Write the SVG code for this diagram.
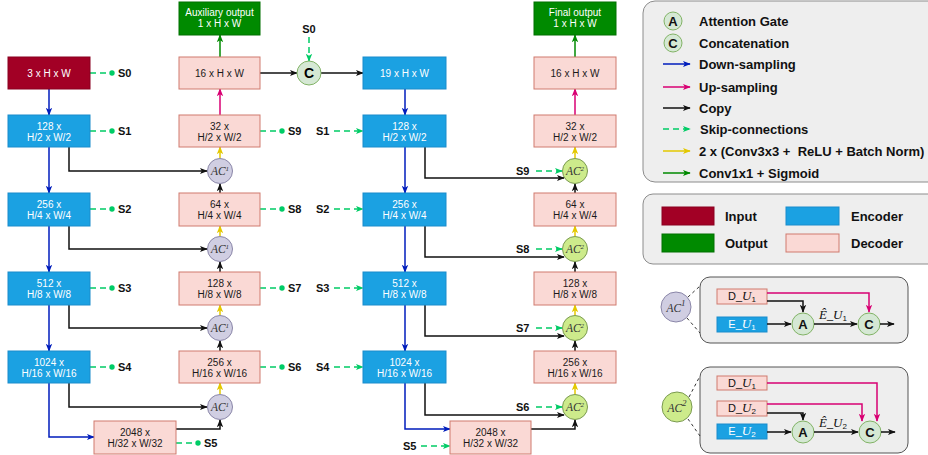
<svg xmlns="http://www.w3.org/2000/svg" width="928" height="455" viewBox="0 0 928 455">
<defs>
<style>
text{font-family:"Liberation Sans",Arial,sans-serif;}
.bx{font-size:10px;text-anchor:middle;}
.wt{fill:#ffffff;}
.dk{fill:#1a1a1a;}
.enc{fill:#1ba1e2;stroke:#1a8ccc;stroke-width:1;}
.dec{fill:#fad9d5;stroke:#d07a6e;stroke-width:1;}
.inp{fill:#a20025;stroke:#8a0020;stroke-width:1;}
.out{fill:#008a00;stroke:#007000;stroke-width:1;}
.ac1{fill:#d0cee2;stroke:#8a86a8;stroke-width:1;}
.ac2{fill:#cdeb8b;stroke:#7a9a50;stroke-width:1;}
.gc{fill:#d5e8d4;stroke:#82b366;stroke-width:1;}
.acl{font-family:"Liberation Serif","Times New Roman",serif;font-style:italic;font-size:11.5px;text-anchor:middle;fill:#333;}
.sl{font-size:11px;font-weight:bold;fill:#111;}
.lg{font-size:13px;font-weight:bold;fill:#111;}
.gl{font-size:13px;font-weight:bold;text-anchor:middle;fill:#111;}
.down{stroke:#001dbc;stroke-width:1.5;fill:none;marker-end:url(#mb);}
.up{stroke:#d80073;stroke-width:1.5;fill:none;marker-end:url(#mp);}
.cp{stroke:#111;stroke-width:1.5;fill:none;marker-end:url(#mk);}
.cv{stroke:#e3c800;stroke-width:1.5;fill:none;marker-end:url(#my);}
.sg{stroke:#008a00;stroke-width:1.5;fill:none;marker-end:url(#mg);}
.sk{stroke:#00cc66;stroke-width:1.5;fill:none;stroke-dasharray:6 4;}
.ska{marker-end:url(#ms);}
.skd{marker-end:url(#md);}
.pk{stroke:#d80073;stroke-width:1.5;fill:none;marker-end:url(#mp);}
.mt{font-family:"Liberation Serif","Times New Roman",serif;font-style:italic;}
</style>
<marker id="mb" viewBox="0 0 10 10" refX="9" refY="5" markerWidth="8" markerHeight="8" markerUnits="userSpaceOnUse" orient="auto"><path d="M0,1 L10,5 L0,9 L2.5,5 z" fill="#001dbc"/></marker>
<marker id="mp" viewBox="0 0 10 10" refX="9" refY="5" markerWidth="8" markerHeight="8" markerUnits="userSpaceOnUse" orient="auto"><path d="M0,1 L10,5 L0,9 L2.5,5 z" fill="#d80073"/></marker>
<marker id="mk" viewBox="0 0 10 10" refX="9" refY="5" markerWidth="8" markerHeight="8" markerUnits="userSpaceOnUse" orient="auto"><path d="M0,1 L10,5 L0,9 L2.5,5 z" fill="#111"/></marker>
<marker id="my" viewBox="0 0 10 10" refX="9" refY="5" markerWidth="8" markerHeight="8" markerUnits="userSpaceOnUse" orient="auto"><path d="M0,1 L10,5 L0,9 L2.5,5 z" fill="#e3c800"/></marker>
<marker id="mg" viewBox="0 0 10 10" refX="9" refY="5" markerWidth="8" markerHeight="8" markerUnits="userSpaceOnUse" orient="auto"><path d="M0,1 L10,5 L0,9 L2.5,5 z" fill="#008a00"/></marker>
<marker id="ms" viewBox="0 0 10 10" refX="9" refY="5" markerWidth="8" markerHeight="8" markerUnits="userSpaceOnUse" orient="auto"><path d="M0,1 L10,5 L0,9 L2.5,5 z" fill="#00cc66"/></marker>
<marker id="md" viewBox="0 0 10 10" refX="5" refY="5" markerWidth="6" markerHeight="6" markerUnits="userSpaceOnUse" orient="auto"><circle cx="5" cy="5" r="4.5" fill="#00cc66"/></marker>
</defs>
<rect width="928" height="455" fill="#ffffff"/>

<!-- Legends -->
<g id="legend-arrows">
<rect x="643" y="1" width="300" height="181" rx="12" fill="#eeeeee" stroke="#8c8c8c" stroke-width="1"/>
<circle class="gc" cx="673" cy="21" r="9"/><text class="gl" x="673" y="25.5">A</text>
<text class="lg" x="699" y="26">Attention Gate</text>
<circle class="gc" cx="673" cy="43" r="9"/><text class="gl" x="673" y="47.5">C</text>
<text class="lg" x="699" y="48">Concatenation</text>
<line class="down" x1="663" y1="64" x2="690" y2="64"/><text class="lg" x="699" y="69">Down-sampling</text>
<line class="up" x1="663" y1="87" x2="690" y2="87"/><text class="lg" x="699" y="92">Up-sampling</text>
<line class="cp" x1="663" y1="108" x2="690" y2="108"/><text class="lg" x="699" y="113">Copy</text>
<line class="sk ska" x1="663" y1="129" x2="690" y2="129"/><text class="lg" x="700" y="134">Skip-connections</text>
<line class="cv" x1="663" y1="151" x2="690" y2="151"/><text class="lg" x="699" y="156" xml:space="preserve">2 x (Conv3x3 +  ReLU + Batch Norm)</text>
<line class="sg" x1="663" y1="173" x2="690" y2="173"/><text class="lg" x="699" y="178">Conv1x1 + Sigmoid</text>
</g>
<g id="legend-colors">
<rect x="643" y="194" width="300" height="70" rx="10" fill="#eeeeee" stroke="#8c8c8c" stroke-width="1"/>
<rect class="inp" x="662" y="207" width="52" height="18"/><text class="lg" x="725" y="221">Input</text>
<rect class="enc" x="786" y="207" width="53" height="18"/><text class="lg" x="851" y="221">Encoder</text>
<rect class="out" x="662" y="234" width="52" height="18"/><text class="lg" x="725" y="248">Output</text>
<rect class="dec" x="786" y="234" width="53" height="18"/><text class="lg" x="851" y="248">Decoder</text>
</g>
<g id="legend-ac1">
<rect x="700" y="277" width="208" height="66" rx="10" fill="#eeeeee" stroke="#555555" stroke-width="1"/>
<line x1="688" y1="297" x2="700" y2="286" stroke="#333" stroke-width="1" stroke-dasharray="3 3"/>
<line x1="687" y1="318" x2="700" y2="333" stroke="#333" stroke-width="1" stroke-dasharray="3 3"/>
<circle class="ac1" cx="676" cy="307" r="15"/>
<text class="acl" x="676" y="312" font-size="15">AC<tspan font-size="9" dy="-6">1</tspan></text>
<rect class="dec" x="717" y="289" width="50" height="15"/>
<text x="742" y="300" font-size="11" text-anchor="middle" fill="#111">D_<tspan class="mt" font-size="13">U</tspan><tspan font-size="8" dy="2">1</tspan></text>
<rect class="enc" x="717" y="317" width="50" height="15"/>
<text x="742" y="328" font-size="11" text-anchor="middle" fill="#fff">E_<tspan class="mt" font-size="13">U</tspan><tspan font-size="8" dy="2">1</tspan></text>
<polyline class="pk" points="767,293 869,293 869,312"/>
<polyline class="cp" points="767,301 803,301 803,312"/>
<line class="cp" x1="767" y1="324" x2="791" y2="324"/>
<circle class="gc" cx="803" cy="324" r="11"/><text class="gl" x="803" y="328.5">A</text>
<line class="cp" x1="814" y1="324" x2="857" y2="324"/>
<text x="833" y="319" font-size="11" text-anchor="middle" fill="#111"><tspan class="mt" font-size="13">Ê</tspan>_<tspan class="mt" font-size="13">U</tspan><tspan font-size="8" dy="2">1</tspan></text>
<circle class="gc" cx="869" cy="324" r="11"/><text class="gl" x="869" y="328.5">C</text>
<line class="cp" x1="880" y1="324" x2="894" y2="324"/>
</g>
<g id="legend-ac2">
<rect x="700" y="367" width="208" height="86" rx="10" fill="#eeeeee" stroke="#555555" stroke-width="1"/>
<line x1="689" y1="397" x2="700" y2="376" stroke="#333" stroke-width="1" stroke-dasharray="3 3"/>
<line x1="688" y1="419" x2="700" y2="436" stroke="#333" stroke-width="1" stroke-dasharray="3 3"/>
<circle class="ac2" cx="677" cy="407" r="15"/>
<text class="acl" x="677" y="412" font-size="15">AC<tspan font-size="9" dy="-6">2</tspan></text>
<rect class="dec" x="717" y="376" width="50" height="14"/>
<text x="742" y="387" font-size="11" text-anchor="middle" fill="#111">D_<tspan class="mt" font-size="13">U</tspan><tspan font-size="8" dy="2">1</tspan></text>
<rect class="dec" x="717" y="401" width="50" height="15"/>
<text x="742" y="412" font-size="11" text-anchor="middle" fill="#111">D_<tspan class="mt" font-size="13">U</tspan><tspan font-size="8" dy="2">2</tspan></text>
<rect class="enc" x="717" y="424" width="50" height="15"/>
<text x="742" y="435" font-size="11" text-anchor="middle" fill="#fff">E_<tspan class="mt" font-size="13">U</tspan><tspan font-size="8" dy="2">2</tspan></text>
<polyline class="pk" points="767,383 877,383 877,421"/>
<polyline class="pk" points="767,404 862,404 862,421"/>
<polyline class="cp" points="767,413 803,413 803,420"/>
<line class="cp" x1="767" y1="432" x2="791" y2="432"/>
<circle class="gc" cx="803" cy="432" r="11"/><text class="gl" x="803" y="436.5">A</text>
<line class="cp" x1="814" y1="432" x2="858" y2="432"/>
<text x="833" y="427" font-size="11" text-anchor="middle" fill="#111"><tspan class="mt" font-size="13">Ê</tspan>_<tspan class="mt" font-size="13">U</tspan><tspan font-size="8" dy="2">2</tspan></text>
<circle class="gc" cx="870" cy="432" r="11"/><text class="gl" x="870" y="436.5">C</text>
<line class="cp" x1="881" y1="432" x2="895" y2="432"/>
</g>

<!-- Connectors -->
<g id="connectors">
<line class="down" x1="49" y1="89" x2="49" y2="115"/>
<line class="down" x1="49" y1="147" x2="49" y2="193"/>
<line class="down" x1="49" y1="226" x2="49" y2="272"/>
<line class="down" x1="49" y1="305" x2="49" y2="351"/>
<polyline class="down" points="49,383 49,437 94,437"/>
<polyline class="cp" points="69,147 69,171 207,171"/>
<polyline class="cp" points="69,226 69,249 207,249"/>
<polyline class="cp" points="69,305 69,328 207,328"/>
<polyline class="cp" points="69,383 69,407 207,407"/>
<polyline class="cp" points="176,429 220,429 220,420"/>
<line class="sg" x1="220" y1="57" x2="220" y2="35"/>
<line class="up" x1="220" y1="115" x2="220" y2="89"/>
<line class="cv" x1="220" y1="158" x2="220" y2="147"/>
<line class="cp" x1="220" y1="193" x2="220" y2="184"/>
<line class="cv" x1="220" y1="236" x2="220" y2="226"/>
<line class="cp" x1="220" y1="272" x2="220" y2="262"/>
<line class="cv" x1="220" y1="315" x2="220" y2="305"/>
<line class="cp" x1="220" y1="351" x2="220" y2="341"/>
<line class="cv" x1="220" y1="394" x2="220" y2="383"/>
<line class="cp" x1="260" y1="73" x2="297" y2="73"/>
<line class="sk ska" x1="309" y1="37" x2="309" y2="61"/>
<line class="cp" x1="321" y1="73" x2="363" y2="73"/>
<line class="down" x1="405" y1="89" x2="405" y2="115"/>
<line class="down" x1="405" y1="147" x2="405" y2="193"/>
<line class="down" x1="405" y1="226" x2="405" y2="272"/>
<line class="down" x1="405" y1="305" x2="405" y2="351"/>
<polyline class="down" points="405,383 405,429 450,429"/>
<polyline class="cp" points="425,147 425,178 564,178"/>
<polyline class="cp" points="425,226 425,257 564,257"/>
<polyline class="cp" points="425,305 425,336 564,336"/>
<polyline class="cp" points="425,383 425,415 564,415"/>
<polyline class="cp" points="531,429 575,429 575,420"/>
<line class="sg" x1="575" y1="57" x2="575" y2="35"/>
<line class="up" x1="575" y1="115" x2="575" y2="89"/>
<line class="cv" x1="575" y1="158" x2="575" y2="147"/>
<line class="cp" x1="575" y1="193" x2="575" y2="184"/>
<line class="cv" x1="575" y1="236" x2="575" y2="226"/>
<line class="cp" x1="575" y1="272" x2="575" y2="262"/>
<line class="cv" x1="575" y1="315" x2="575" y2="305"/>
<line class="cp" x1="575" y1="351" x2="575" y2="341"/>
<line class="cv" x1="575" y1="394" x2="575" y2="383"/>
<line class="sk skd" x1="90" y1="73" x2="112" y2="73"/>
<line class="sk skd" x1="90" y1="131" x2="112" y2="131"/>
<line class="sk skd" x1="90" y1="209" x2="112" y2="209"/>
<line class="sk skd" x1="90" y1="288" x2="112" y2="288"/>
<line class="sk skd" x1="90" y1="367" x2="112" y2="367"/>
<line class="sk skd" x1="176" y1="443" x2="198" y2="443"/>
<line class="sk skd" x1="260" y1="131" x2="282" y2="131"/>
<line class="sk skd" x1="260" y1="209" x2="282" y2="209"/>
<line class="sk skd" x1="260" y1="288" x2="282" y2="288"/>
<line class="sk skd" x1="260" y1="367" x2="282" y2="367"/>
<line class="sk ska" x1="334" y1="131" x2="363" y2="131"/>
<line class="sk ska" x1="334" y1="209" x2="363" y2="209"/>
<line class="sk ska" x1="334" y1="288" x2="363" y2="288"/>
<line class="sk ska" x1="334" y1="367" x2="363" y2="367"/>
<line class="sk ska" x1="421" y1="446" x2="450" y2="446"/>
<line class="sk ska" x1="536" y1="171" x2="562" y2="171"/>
<line class="sk ska" x1="536" y1="249" x2="562" y2="249"/>
<line class="sk ska" x1="536" y1="328" x2="562" y2="328"/>
<line class="sk ska" x1="536" y1="407" x2="562" y2="407"/>
</g>

<g id="skip-labels">
<text class="sl" x="118" y="77">S0</text>
<text class="sl" x="118" y="135">S1</text>
<text class="sl" x="118" y="213">S2</text>
<text class="sl" x="118" y="292">S3</text>
<text class="sl" x="118" y="371">S4</text>
<text class="sl" x="204" y="447">S5</text>
<text class="sl" x="288" y="135">S9</text>
<text class="sl" x="288" y="213">S8</text>
<text class="sl" x="288" y="292">S7</text>
<text class="sl" x="288" y="371">S6</text>
<text class="sl" x="309" y="33" text-anchor="middle">S0</text>
<text class="sl" x="316" y="135">S1</text>
<text class="sl" x="316" y="213">S2</text>
<text class="sl" x="316" y="292">S3</text>
<text class="sl" x="316" y="371">S4</text>
<text class="sl" x="403" y="450">S5</text>
<text class="sl" x="516" y="175">S9</text>
<text class="sl" x="516" y="253">S8</text>
<text class="sl" x="516" y="332">S7</text>
<text class="sl" x="516" y="411">S6</text>
</g>

<g id="input"><rect class="inp" x="8" y="57" width="82" height="32"/><text class="bx wt" x="49" y="76.5">3 x H x W</text></g>
<g id="enc1-128"><rect class="enc" x="8" y="115" width="82" height="32"/><text class="bx wt" x="49" y="129.5">128 x</text><text class="bx wt" x="49" y="140.5">H/2 x W/2</text></g>
<g id="enc1-256"><rect class="enc" x="8" y="193" width="82" height="33"/><text class="bx wt" x="49" y="208">256 x</text><text class="bx wt" x="49" y="219">H/4 x W/4</text></g>
<g id="enc1-512"><rect class="enc" x="8" y="272" width="82" height="33"/><text class="bx wt" x="49" y="287">512 x</text><text class="bx wt" x="49" y="298">H/8 x W/8</text></g>
<g id="enc1-1024"><rect class="enc" x="8" y="351" width="82" height="32"/><text class="bx wt" x="49" y="365.5">1024 x</text><text class="bx wt" x="49" y="376.5">H/16 x W/16</text></g>
<g id="bott1"><rect class="dec" x="94" y="421" width="82" height="33"/><text class="bx dk" x="135" y="436">2048 x</text><text class="bx dk" x="135" y="447">H/32 x W/32</text></g>

<g id="aux-out"><rect class="out" x="179" y="2" width="81" height="33"/><text class="bx wt" x="219.5" y="16">Auxiliary output</text><text class="bx wt" x="219.5" y="27">1 x H x W</text></g>
<g id="dec1-16"><rect class="dec" x="179" y="57" width="81" height="32"/><text class="bx dk" x="219.5" y="76.5">16 x H x W</text></g>
<g id="dec1-32"><rect class="dec" x="179" y="115" width="81" height="32"/><text class="bx dk" x="219.5" y="129.5">32 x</text><text class="bx dk" x="219.5" y="140.5">H/2 x W/2</text></g>
<g id="dec1-64"><rect class="dec" x="179" y="193" width="81" height="33"/><text class="bx dk" x="219.5" y="208">64 x</text><text class="bx dk" x="219.5" y="219">H/4 x W/4</text></g>
<g id="dec1-128"><rect class="dec" x="179" y="272" width="81" height="33"/><text class="bx dk" x="219.5" y="287">128 x</text><text class="bx dk" x="219.5" y="298">H/8 x W/8</text></g>
<g id="dec1-256"><rect class="dec" x="179" y="351" width="81" height="32"/><text class="bx dk" x="219.5" y="365.5">256 x</text><text class="bx dk" x="219.5" y="376.5">H/16 x W/16</text></g>
<g id="ac1-a"><circle class="ac1" cx="220" cy="171" r="12.5"/><text class="acl" x="220" y="175">AC<tspan font-size="7" dy="-4">1</tspan></text></g>
<g id="ac1-b"><circle class="ac1" cx="220" cy="249" r="12.5"/><text class="acl" x="220" y="253">AC<tspan font-size="7" dy="-4">1</tspan></text></g>
<g id="ac1-c"><circle class="ac1" cx="220" cy="328" r="12.5"/><text class="acl" x="220" y="332">AC<tspan font-size="7" dy="-4">1</tspan></text></g>
<g id="ac1-d"><circle class="ac1" cx="220" cy="407" r="12.5"/><text class="acl" x="220" y="411">AC<tspan font-size="7" dy="-4">1</tspan></text></g>
<g id="concat"><circle class="gc" cx="309" cy="73" r="12"/><text x="309" y="78" font-size="14" font-weight="bold" text-anchor="middle">C</text></g>

<g id="enc2-19"><rect class="enc" x="363" y="57" width="83" height="32"/><text class="bx wt" x="404.5" y="76.5">19 x H x W</text></g>
<g id="enc2-128"><rect class="enc" x="363" y="115" width="83" height="32"/><text class="bx wt" x="404.5" y="129.5">128 x</text><text class="bx wt" x="404.5" y="140.5">H/2 x W/2</text></g>
<g id="enc2-256"><rect class="enc" x="363" y="193" width="83" height="33"/><text class="bx wt" x="404.5" y="208">256 x</text><text class="bx wt" x="404.5" y="219">H/4 x W/4</text></g>
<g id="enc2-512"><rect class="enc" x="363" y="272" width="83" height="33"/><text class="bx wt" x="404.5" y="287">512 x</text><text class="bx wt" x="404.5" y="298">H/8 x W/8</text></g>
<g id="enc2-1024"><rect class="enc" x="363" y="351" width="83" height="32"/><text class="bx wt" x="404.5" y="365.5">1024 x</text><text class="bx wt" x="404.5" y="376.5">H/16 x W/16</text></g>
<g id="bott2"><rect class="dec" x="450" y="421" width="81" height="33"/><text class="bx dk" x="490.5" y="436">2048 x</text><text class="bx dk" x="490.5" y="447">H/32 x W/32</text></g>

<g id="final-out"><rect class="out" x="534" y="2" width="82" height="33"/><text class="bx wt" x="575" y="16">Final output</text><text class="bx wt" x="575" y="27">1 x H x W</text></g>
<g id="dec2-16"><rect class="dec" x="534" y="57" width="82" height="32"/><text class="bx dk" x="575" y="76.5">16 x H x W</text></g>
<g id="dec2-32"><rect class="dec" x="534" y="115" width="82" height="32"/><text class="bx dk" x="575" y="129.5">32 x</text><text class="bx dk" x="575" y="140.5">H/2 x W/2</text></g>
<g id="dec2-64"><rect class="dec" x="534" y="193" width="82" height="33"/><text class="bx dk" x="575" y="208">64 x</text><text class="bx dk" x="575" y="219">H/4 x W/4</text></g>
<g id="dec2-128"><rect class="dec" x="534" y="272" width="82" height="33"/><text class="bx dk" x="575" y="287">128 x</text><text class="bx dk" x="575" y="298">H/8 x W/8</text></g>
<g id="dec2-256"><rect class="dec" x="534" y="351" width="82" height="32"/><text class="bx dk" x="575" y="365.5">256 x</text><text class="bx dk" x="575" y="376.5">H/16 x W/16</text></g>
<g id="ac2-a"><circle class="ac2" cx="575" cy="171" r="12.5"/><text class="acl" x="575" y="175">AC<tspan font-size="7" dy="-4">2</tspan></text></g>
<g id="ac2-b"><circle class="ac2" cx="575" cy="249" r="12.5"/><text class="acl" x="575" y="253">AC<tspan font-size="7" dy="-4">2</tspan></text></g>
<g id="ac2-c"><circle class="ac2" cx="575" cy="328" r="12.5"/><text class="acl" x="575" y="332">AC<tspan font-size="7" dy="-4">2</tspan></text></g>
<g id="ac2-d"><circle class="ac2" cx="575" cy="407" r="12.5"/><text class="acl" x="575" y="411">AC<tspan font-size="7" dy="-4">2</tspan></text></g>
</svg>
